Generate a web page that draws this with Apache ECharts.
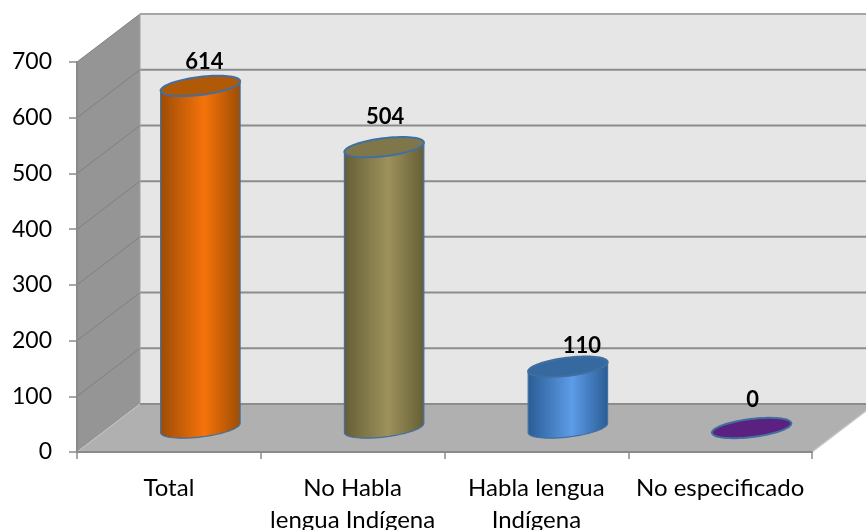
<!DOCTYPE html>
<html>
<head>
<meta charset="utf-8">
<style>html,body{margin:0;padding:0;background:#fff}#c{width:866px;height:530px}</style>
<script src="https://cdn.jsdelivr.net/npm/echarts@6/dist/echarts.min.js"></script>
</head>
<body>
<div id="c"></div>
<script>
const categories = ['Total', 'No Habla\nlengua Indígena', 'Habla lengua\nIndígena', 'No especificado'];
const values = [614, 504, 110, 0];
const yTicks = [0, 100, 200, 300, 400, 500, 600, 700];

const sideColors = ['#9c4c05', '#655d36', '#2a5c94', '#5a2180'];
const midColors = ['#f6730a', '#9d925c', '#5c9ce8', '#5a2180'];
const capColors = ['#b05a08', '#7f7649', '#36699f', '#5a2180'];
const labelOffsets = [[4, -24], [1, -30], [14, -21], [1, -28]];

const DX = 63, DY = -48, A = 40, B = 9, ROT = 7 * Math.PI / 180;
const OUTLINE = '#416f9f';
const FONT = 'Lato, Carlito, sans-serif';

function ellipse(cx, cy) {
  const pts = [];
  for (let i = 0; i < 72; i++) {
    const t = i / 72 * 2 * Math.PI;
    const x = A * Math.cos(t), y = B * Math.sin(t);
    pts.push([cx + x * Math.cos(ROT) + y * Math.sin(ROT), cy - x * Math.sin(ROT) + y * Math.cos(ROT)]);
  }
  return pts;
}

function renderWalls(params, api) {
  const r = params.coordSys;
  const y0 = api.coord([0, 0])[1];
  const yT = api.coord([0, 700])[1];
  const L = r.x, R = r.x + r.width;
  const kids = [
    {type: 'polygon', shape: {points: [[L + DX, yT + DY], [R + DX, yT + DY], [R + DX, y0 + DY], [L + DX, y0 + DY]]},
      style: {fill: '#e6e6e6'}},
    {type: 'polygon', shape: {points: [[L, yT], [L + DX, yT + DY], [L + DX, y0 + DY], [L, y0]]},
      style: {fill: '#959595'}},
    {type: 'polygon', shape: {points: [[L, y0], [R, y0], [R + DX, y0 + DY], [L + DX, y0 + DY]]},
      style: {fill: '#b0b0b0'}}
  ];
  yTicks.forEach(v => {
    const y = api.coord([0, v])[1];
    kids.push({type: 'line', shape: {x1: L + DX, y1: y + DY, x2: R + DX, y2: y + DY},
      style: {stroke: v === 700 ? '#a6a6a6' : '#8c8c8c', lineWidth: 2}});
    kids.push({type: 'line', shape: {x1: L, y1: y, x2: L + DX, y2: y + DY},
      style: {stroke: v === 0 ? '#c4c4c4' : '#808080', lineWidth: 1}});
  });
  kids.push({type: 'line', shape: {x1: L + DX, y1: yT + DY, x2: L + DX, y2: y0 + DY},
    style: {stroke: '#a0a0a0', lineWidth: 1}});
  kids.push({type: 'line', shape: {x1: R, y1: y0, x2: R + DX, y2: y0 + DY},
    style: {stroke: '#c4c4c4', lineWidth: 1.5}});
  return {type: 'group', children: kids};
}

function renderCyl(params, api) {
  const i = api.value(0), v = api.value(1);
  const base = api.coord([i, 0]), top = api.coord([i, v]);
  const cx = base[0] + DX / 2, by = base[1] + DY / 2, ty = top[1] + DY / 2;
  const kids = [];
  const be = ellipse(cx, by), te = ellipse(cx, ty);
  if (v > 0) {
    let li = 0, ri = 0;
    be.forEach((p, k) => { if (p[0] < be[li][0]) li = k; if (p[0] > be[ri][0]) ri = k; });
    const pts = [];
    for (let k = ri; k !== li; k = (k + 1) % 72) pts.push(be[k]);
    pts.push(be[li]);
    pts.push(te[li]);
    pts.push(te[ri]);
    kids.push({type: 'polygon', shape: {points: pts}, style: {
      fill: new echarts.graphic.LinearGradient(0, 0, 1, 0, [
        {offset: 0, color: sideColors[i]},
        {offset: 0.55, color: midColors[i]},
        {offset: 1, color: sideColors[i]}
      ]),
      stroke: OUTLINE, lineWidth: 1.2}});
  }
  kids.push({type: 'polygon', shape: {points: te}, style: {fill: capColors[i], stroke: OUTLINE, lineWidth: 2}});
  kids.push({type: 'text', style: {
    text: String(v), x: cx + labelOffsets[i][0], y: ty + labelOffsets[i][1],
    textAlign: 'center', textVerticalAlign: 'middle',
    font: 'bold 22px ' + FONT, fill: '#000'}});
  return {type: 'group', children: kids};
}

const chart = echarts.init(document.getElementById('c'), null, {renderer: 'canvas'});
chart.setOption({
  animation: false,
  backgroundColor: '#fff',
  grid: {left: 77, right: 54, top: 62, bottom: 78, outerBoundsMode: 'none'},
  xAxis: {
    type: 'category', data: categories, z: 5,
    axisLine: {lineStyle: {color: '#8a8a8a', width: 2}},
    axisTick: {show: true, length: 7, alignWithLabel: false, lineStyle: {color: '#8a8a8a', width: 1.5}},
    axisLabel: {interval: 0, margin: 20, fontFamily: FONT, fontSize: 24, color: '#000', lineHeight: 32}
  },
  yAxis: {
    type: 'value', min: 0, max: 700, interval: 100, z: 5,
    splitLine: {show: false},
    axisLine: {show: true, lineStyle: {color: '#8a8a8a', width: 2}},
    axisTick: {show: true, length: 8, lineStyle: {color: '#8a8a8a', width: 1.5}},
    axisLabel: {margin: 25, fontFamily: FONT, fontSize: 23, color: '#000'}
  },
  series: [
    {type: 'custom', z: 1, silent: true, renderItem: renderWalls, data: [[0, 0]], encode: {x: 0, y: 1}},
    {type: 'custom', z: 2, silent: true, renderItem: renderCyl,
      data: values.map((v, i) => [i, v]), encode: {x: 0, y: 1}}
  ]
});
</script>
</body>
</html>
